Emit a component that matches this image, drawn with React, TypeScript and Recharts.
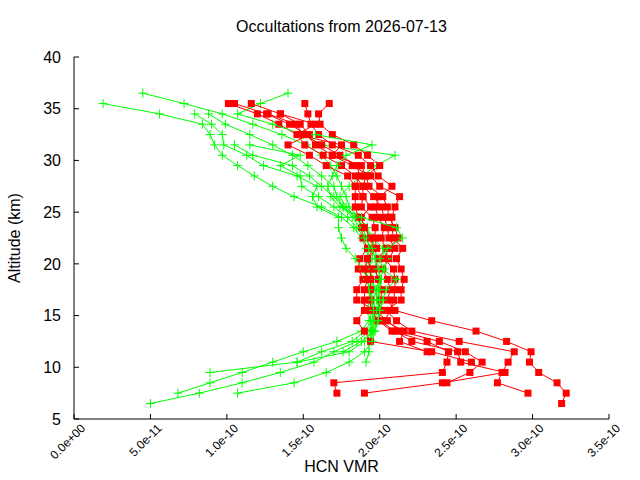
import { ScatterChart, Scatter, XAxis, YAxis } from "recharts";

// altitude grid shared by every profile (km), top to bottom
const altitudes = [
  36.5, 35.5, 34.5, 33.5, 32.5, 31.5, 30.5, 29.5, 28.5, 27.5, 26.5, 25.5, 24.5,
  23.5, 22.5, 21.5, 20.5, 19.5, 18.5, 17.5, 16.5, 15.5, 14.5, 13.5, 12.5, 11.5,
  10.5, 9.5, 8.5, 7.5, 6.5,
];

// HCN VMR in units of 1e-10, aligned with altitudes (null = no retrieval)
const redA = [null, 1.01, 1.2, 1.34, 1.46, 1.51, 1.63, 1.75, 1.84, 1.89, 1.96, 2.01, 2.03, 2.05, 2.06, 2.1, 2.06, 2.02, 2.05, 2.07, 2.05, 2.1, 2.34, 2.63, 2.83, 2.99, 2.98, 3.04, 3.16, 3.22, 3.19];
const redB = [null, 1.05, 1.26, 1.41, 1.52, 1.58, 1.69, 1.82, 1.94, 2.0, 2.13, 2.1, 2.08, 2.08, 2.09, 2.15, 2.11, 2.14, 2.16, 2.14, 2.14, 2.04, 2.11, 2.21, 2.52, 2.88, 2.84, 2.8, 2.77, 2.97, null];
const redC = [null, 1.16, 1.35, 1.48, 1.54, 1.4, 1.54, 1.65, 1.79, 1.84, 1.84, 1.84, 1.86, 1.88, 1.89, 1.92, 1.87, 1.86, 1.89, 1.85, 1.85, 1.97, 2.05, 2.13, 2.39, 2.56, 2.67, 2.59, 2.44, null, null];
const redD = [null, 1.51, 1.53, 1.55, 1.6, 1.69, 1.86, 1.94, 1.99, 2.08, 2.0, 1.97, 1.99, 2.03, 2.01, 2.04, 1.99, 1.97, 1.99, 2.02, 2.0, 2.0, 2.0, 2.1, 2.21, 2.51, 2.53, 2.82, 2.41, 1.9, null];
const redE = [null, 1.67, 1.6, 1.61, 1.69, 1.83, 1.92, 2.0, 1.91, 1.89, 1.89, 1.88, 1.95, 1.97, 1.97, 1.98, 1.92, 1.94, 1.94, 1.94, 1.94, 1.94, 1.99, 2.08, 2.31, 2.45, 2.44, 2.41, 1.7, 1.72, null];
const redF = [null, null, 1.27, 1.45, 1.5, 1.62, 1.74, 1.85, 1.87, 1.84, 1.89, 1.94, 1.88, 1.9, 1.94, 1.96, 1.92, 1.9, 1.92, 1.9, 1.9, 1.9, 1.85, 1.9, 1.94, 2.34, 2.6, null, null, null, null];
const redG = [null, null, 1.35, 1.58, 1.46, 1.75, 1.69, 1.88, 1.91, 1.93, 2.02, 2.05, 2.06, 2.1, 2.12, 2.06, 2.03, 2.09, 2.1, 2.1, 2.09, 2.07, 2.03, 2.16, 2.13, 2.31, null, null, null, null, null];

const greenA = [0.45, 0.72, 0.97, 1.17, 1.36, 1.52, 1.62, 1.68, 1.72, 1.75, 1.78, 1.8, 1.86, 1.92, 1.95, 1.97, 1.98, 1.97, 1.99, 1.98, 1.96, 1.97, 1.96, 1.93, 1.85, 1.7, 1.57, 1.35, 1.1, 0.82, 0.5];
const greenB = [1.4, 1.22, 1.07, 1.3, 1.5, 1.62, 2.1, 1.98, 1.88, 1.8, 1.74, 1.78, 1.84, 1.9, 1.94, 1.96, 1.95, 1.93, 1.95, 1.97, 1.99, 2.01, 1.98, 1.95, 1.93, 1.93, 1.91, null, null, null, null];
const greenC = [null, 0.19, 0.56, 0.84, 0.89, 0.92, 0.97, 1.07, 1.18, 1.3, 1.44, 1.62, 1.75, 1.83, 1.88, 1.91, 1.93, 1.94, 1.95, 1.95, 1.94, 1.95, 1.93, 1.88, 1.72, 1.5, 1.3, 1.1, 0.89, 0.68, null];
const greenD = [null, null, 0.79, 0.9, 0.97, 0.98, 1.13, 1.24, 1.46, 1.59, 1.56, 1.59, 1.73, 1.73, 1.75, 1.78, 1.84, 1.89, 1.92, 1.94, 1.93, 1.92, 1.94, 1.95, 1.9, 1.8, 1.46, 0.89, null, null, null];
const greenE = [null, null, 0.88, 0.99, 1.15, 1.3, 1.43, 1.53, 1.62, 1.7, 1.72, 1.76, 1.84, 1.9, 1.96, 2.02, 2.05, 2.03, 2.0, 1.99, 2.0, 1.98, 1.97, 1.94, 1.95, 1.9, 1.8, 1.65, 1.44, 1.07, null];
const greenF = [null, null, null, null, null, 1.05, 1.17, 1.43, 1.54, 1.62, 1.7, 1.76, 1.82, 1.88, 1.92, 1.93, 1.92, 1.91, 1.92, 1.93, 1.95, 1.96, 1.95, 1.9, 1.82, 1.62, 1.46, null, null, null, null];
const greenG = [null, null, null, null, null, 1.15, 1.48, 1.35, 1.48, 1.49, 1.6, 1.7, 1.79, 1.85, 1.9, 1.95, 1.97, 1.99, 2.01, 2.0, 1.98, 2.0, 1.99, 1.96, 1.88, 1.76, null, null, null, null, null];
const greenH = [null, null, null, null, 1.58, 1.95, 1.78, 1.72, 1.69, 1.66, 1.68, 1.74, 1.88, 2.11, 2.15, 2.05, 2.0, 2.02, 2.11, 2.04, 2.02, 2.0, 1.99, 1.97, 1.95, null, null, null, null, null, null];

const vmrTicks = [0, 0.5e-10, 1.0e-10, 1.5e-10, 2.0e-10, 2.5e-10, 3.0e-10, 3.5e-10];
const vmrTickLabels = ["0.0e+00", "5.0e-11", "1.0e-10", "1.5e-10", "2.0e-10", "2.5e-10", "3.0e-10", "3.5e-10"];
const altTicks = [5, 10, 15, 20, 25, 30, 35, 40];

const UNIT = 1e-10;
const RED = "#ff0000";
const GREEN = "#00ff00";
const FONT = "'Liberation Sans', Arial, sans-serif";

const toPoints = (vals: (number | null)[]) =>
  altitudes
    .map((alt, i) => ({ alt, v: vals[i] == null ? null : (vals[i] as number) * UNIT }))
    .filter((p) => p.v != null);

// draw order alternates green and red profiles
const profiles = [
  { vals: greenA, color: GREEN },
  { vals: redA, color: RED },
  { vals: greenB, color: GREEN },
  { vals: redB, color: RED },
  { vals: greenC, color: GREEN },
  { vals: redC, color: RED },
  { vals: greenD, color: GREEN },
  { vals: redD, color: RED },
  { vals: greenE, color: GREEN },
  { vals: redE, color: RED },
  { vals: greenF, color: GREEN },
  { vals: redF, color: RED },
  { vals: greenG, color: GREEN },
  { vals: redG, color: RED },
  { vals: greenH, color: GREEN },
];

const Square = (p: any) => (
  <rect x={p.cx - 3.5} y={p.cy - 3.5} width={7} height={7} fill={RED} />
);

const Plus = (p: any) => (
  <path
    d={`M${p.cx - 4.5},${p.cy}h9M${p.cx},${p.cy - 4.5}v9`}
    stroke={GREEN}
    strokeWidth={1}
    fill="none"
  />
);

const VmrTick = ({ x, y, index }: any) => (
  <g>
    <line x1={x} y1={y} x2={x} y2={y - 5} stroke="#000" />
    <text
      x={x + 12}
      y={y + 10}
      transform={`rotate(-45 ${x + 12} ${y + 10})`}
      textAnchor="end"
      fontSize={12}
      fontFamily={FONT}
      fill="#000"
    >
      {vmrTickLabels[index]}
    </text>
  </g>
);

const AltTick = ({ x, y, payload }: any) => (
  <g>
    <line x1={x} y1={y} x2={x + 5} y2={y} stroke="#000" />
    <text
      x={x - 13}
      y={y}
      dy="0.36em"
      textAnchor="end"
      fontSize={16}
      fontFamily={FONT}
      fill="#000"
    >
      {payload.value}
    </text>
  </g>
);

const TopTick = ({ x, y }: any) => (
  <line x1={x} y1={y} x2={x} y2={y + 5} stroke="#000" />
);

const RightTick = ({ x, y }: any) => (
  <line x1={x} y1={y} x2={x - 5} y2={y} stroke="#000" />
);

export default function App() {
  return (
    <div style={{ position: "absolute", left: 0, top: 0, width: 640, height: 480, background: "#fff" }}>
      <ScatterChart width={640} height={480} margin={{ top: 57, right: 31, bottom: 0, left: 0 }}>
        <XAxis
          type="number"
          dataKey="v"
          domain={[0, 3.5e-10]}
          ticks={vmrTicks}
          interval={0}
          height={61}
          tickSize={0}
          tickMargin={0}
          tickLine={false}
          axisLine={{ stroke: "#000" }}
          tick={<VmrTick />}
        />
        <XAxis
          xAxisId="top"
          orientation="top"
          type="number"
          domain={[0, 3.5e-10]}
          ticks={vmrTicks}
          interval={0}
          height={0}
          tickSize={0}
          tickMargin={0}
          tickLine={false}
          axisLine={{ stroke: "#000" }}
          tick={<TopTick />}
        />
        <YAxis
          type="number"
          dataKey="alt"
          domain={[5, 40]}
          ticks={altTicks}
          interval={0}
          width={74}
          tickSize={0}
          tickMargin={0}
          tickLine={false}
          axisLine={{ stroke: "#000" }}
          tick={<AltTick />}
        />
        <YAxis
          yAxisId="right"
          orientation="right"
          type="number"
          domain={[5, 40]}
          ticks={altTicks}
          interval={0}
          width={0}
          tickSize={0}
          tickMargin={0}
          tickLine={false}
          axisLine={{ stroke: "#000" }}
          tick={<RightTick />}
        />
        {profiles.map((p, i) => (
          <Scatter
            key={i}
            data={toPoints(p.vals)}
            fill={p.color}
            line={{ stroke: p.color, strokeWidth: 1 }}
            shape={p.color === RED ? Square : Plus}
            isAnimationActive={false}
          />
        ))}
      </ScatterChart>
      <svg
        width={640}
        height={480}
        style={{ position: "absolute", left: 0, top: 0, pointerEvents: "none" }}
        fontFamily={FONT}
        fontSize={16}
      >
        <text x={341.5} y={32} textAnchor="middle" fill="#000">
          Occultations from 2026-07-13
        </text>
        <text x={341.5} y={472} textAnchor="middle" fill="#000">
          HCN VMR
        </text>
        <text x={20} y={238} textAnchor="middle" fill="#000" transform="rotate(-90 20 238)">
          Altitude (km)
        </text>
      </svg>
    </div>
  );
}
